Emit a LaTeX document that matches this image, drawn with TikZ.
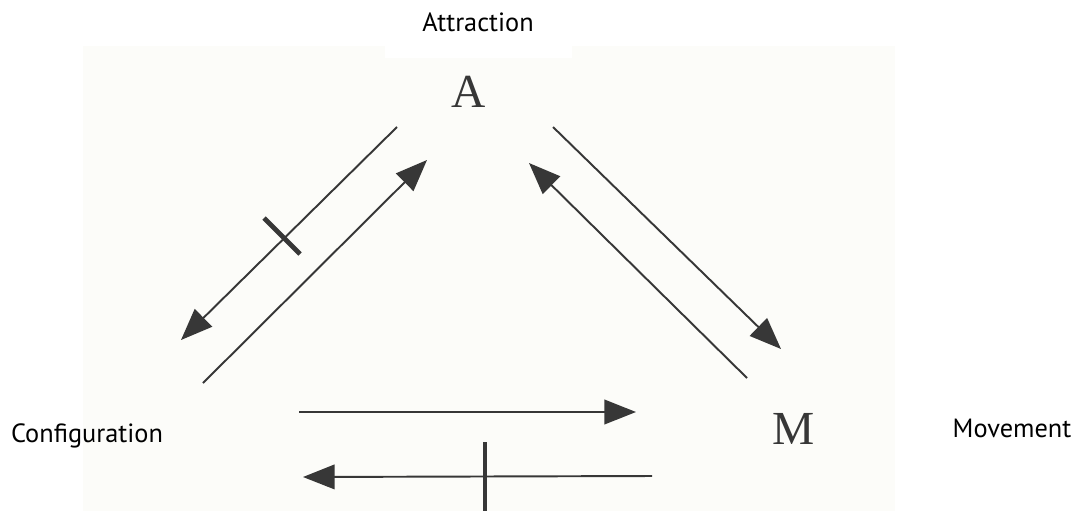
\documentclass[tikz,border=0pt]{standalone}
\usepackage{fontspec}
\setmainfont{PT Sans}
\newfontfamily\letterfont{Liberation Serif}
\usepackage{tikz}
\usetikzlibrary{positioning, arrows.meta}
\definecolor{ink}{RGB}{55,55,55}
\definecolor{scan}{RGB}{252,252,249}

\begin{document}
\begin{tikzpicture}[x=0.02cm, y=-0.02cm,
    link/.style={draw=ink, line width=1.1pt, -{Triangle[length=18pt, width=14pt]}},
    block/.style={draw=ink, line width=2.8pt},
    corner/.style={font=\letterfont\fontsize{27}{30}\selectfont, text=ink, inner sep=0pt},
    caption/.style={font=\fontsize{15}{18}\selectfont, inner sep=0pt}]
    \useasboundingbox (0,0) rectangle (1087,511);

    % scanned page behind the triangle
    \fill[scan] (83,46) rectangle (895,511);
    \fill[white] (385,0) rectangle (572,58);

    % corners
    \node[corner] (A) at (469,92) {A};
    \node[corner] (M) at (794,429) {M};

    % labels
    \node[caption] (attr) at (478,22) {Attraction};
    \node[caption] (conf) at (87,436) {Configuration};
    \node[caption] (move) at (1012,428) {Movement};

    % left side: A -> C (blocked) and C -> A
    \coordinate (ac1) at (397,127);
    \coordinate (ac2) at (181,340);
    \coordinate (ca1) at (203,383);
    \coordinate (ca2) at (427,160);
    \draw[link] (ac1) -- (ac2);
    \draw[link] (ca1) -- (ca2);
    \coordinate (acbar1) at (264,218);
    \coordinate (acbar2) at (300,254);
    \draw[block] (acbar1) -- (acbar2);

    % right side: M -> A and A -> M
    \coordinate (ma1) at (747,378);
    \coordinate (ma2) at (529,163);
    \coordinate (am1) at (553,127);
    \coordinate (am2) at (781,349);
    \draw[link] (ma1) -- (ma2);
    \draw[link] (am1) -- (am2);

    % bottom: C -> M and M -> C (blocked)
    \coordinate (cm1) at (299,412);
    \coordinate (cm2) at (636,412);
    \coordinate (mc1) at (652,476);
    \coordinate (mc2) at (303,477);
    \draw[link] (cm1) -- (cm2);
    \draw[link] (mc1) -- (mc2);
    \coordinate (mcbar1) at (485,442);
    \coordinate (mcbar2) at (485,511);
    \draw[block] (mcbar1) -- (mcbar2);
\end{tikzpicture}
\end{document}
